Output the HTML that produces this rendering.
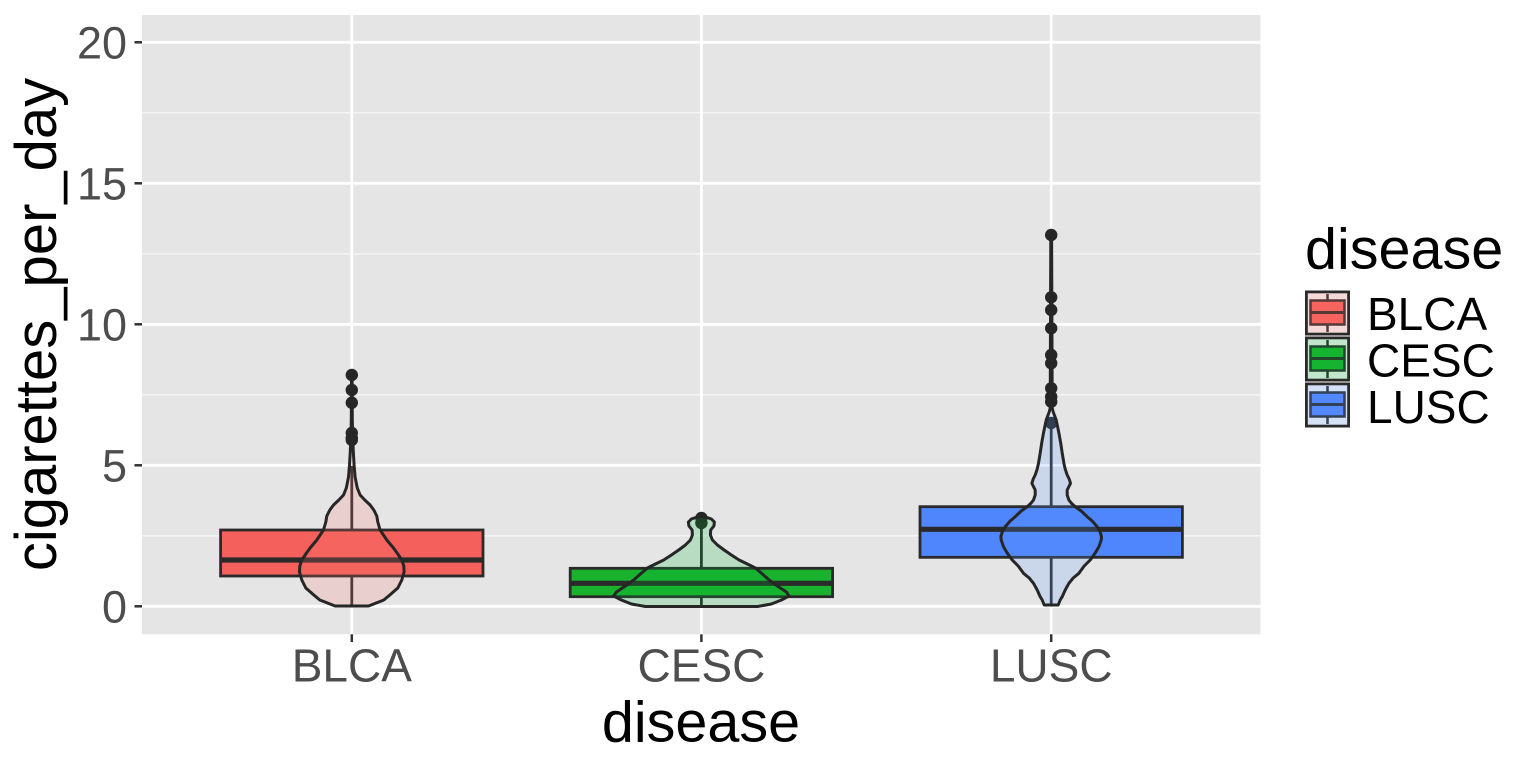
<!DOCTYPE html>
<html>
<head>
<meta charset="utf-8">
<style>
  html, body { margin:0; padding:0; background:#ffffff; }
  svg { display:block; }
  text { font-family: "Liberation Sans", Arial, sans-serif; }
</style>
</head>
<body>
<svg width="1536" height="768" viewBox="0 0 1536 768" xmlns="http://www.w3.org/2000/svg">
  <rect x="0" y="0" width="1536" height="768" fill="#ffffff"/>
  <!-- panel -->
  <rect x="142" y="15" width="1118.5" height="619.3" fill="#E5E5E5"/>
  <!-- minor gridlines -->
  <g stroke="#F5F5F5" stroke-width="1.4">
    <line x1="142" x2="1260.5" y1="535.8" y2="535.8"/>
    <line x1="142" x2="1260.5" y1="394.8" y2="394.8"/>
    <line x1="142" x2="1260.5" y1="253.8" y2="253.8"/>
    <line x1="142" x2="1260.5" y1="112.8" y2="112.8"/>
  </g>
  <!-- major gridlines -->
  <g stroke="#FFFFFF" stroke-width="2.8">
    <line x1="142" x2="1260.5" y1="606.3" y2="606.3"/>
    <line x1="142" x2="1260.5" y1="465.3" y2="465.3"/>
    <line x1="142" x2="1260.5" y1="324.3" y2="324.3"/>
    <line x1="142" x2="1260.5" y1="183.3" y2="183.3"/>
    <line x1="142" x2="1260.5" y1="42.3" y2="42.3"/>
    <line x1="351.8" x2="351.8" y1="15" y2="634.3"/>
    <line x1="701.4" x2="701.4" y1="15" y2="634.3"/>
    <line x1="1051.2" x2="1051.2" y1="15" y2="634.3"/>
  </g>

  <!-- boxplots -->
  <g stroke="#2a2a2a" stroke-width="2.8">
    <!-- BLCA -->
    <line x1="351.8" x2="351.8" y1="530" y2="466"/>
    <line x1="351.8" x2="351.8" y1="576" y2="606"/>
    <rect x="220.6" y="530" width="262.4" height="46" fill="#F4605B"/>
    <line x1="220.6" x2="483" y1="560" y2="560" stroke-width="5.2"/>
    <!-- CESC -->
    <line x1="701.4" x2="701.4" y1="568.3" y2="524"/>
    <line x1="701.4" x2="701.4" y1="596.7" y2="606.5"/>
    <rect x="570.2" y="568.3" width="262.4" height="28.4" fill="#19B22F"/>
    <line x1="570.2" x2="832.6" y1="583.3" y2="583.3" stroke-width="5.2"/>
    <!-- LUSC -->
    <line x1="1051.2" x2="1051.2" y1="506.7" y2="420"/>
    <line x1="1051.2" x2="1051.2" y1="557.3" y2="605"/>
    <rect x="920" y="506.7" width="262.4" height="50.6" fill="#4F86FE"/>
    <line x1="920" x2="1182.4" y1="529.3" y2="529.3" stroke-width="5.2"/>
  </g>
  <!-- outliers -->
  <g fill="#262626">
    <circle cx="351.8" cy="375" r="6.2"/>
    <circle cx="351.8" cy="390" r="6.2"/>
    <circle cx="351.8" cy="402.7" r="6.2"/>
    <circle cx="351.8" cy="433" r="6.2"/>
    <circle cx="351.8" cy="438" r="6.2"/>
    <circle cx="351.8" cy="440" r="6.2"/>
    <circle cx="701.4" cy="518" r="6.2"/>
    <circle cx="701.4" cy="523" r="6.2"/>
    <circle cx="1051.2" cy="235" r="6.2"/>
    <circle cx="1051.2" cy="297.3" r="6.2"/>
    <circle cx="1051.2" cy="310" r="6.2"/>
    <circle cx="1051.2" cy="328.3" r="6.2"/>
    <circle cx="1051.2" cy="355" r="6.2"/>
    <circle cx="1051.2" cy="363.3" r="6.2"/>
    <circle cx="1051.2" cy="388.3" r="6.2"/>
    <circle cx="1051.2" cy="396.7" r="6.2"/>
    <circle cx="1051.2" cy="401.7" r="6.2"/>
    <circle cx="1051.2" cy="423" r="6.2"/>
  </g>

  <!-- violins -->
  <g stroke="#262626" stroke-width="3" stroke-linejoin="round">
    <path fill="#F8766D" fill-opacity="0.2" d="M335.1,606 L319.8,600 L313.8,595 L305.8,588 L301.8,580 L299.5,572 L299.8,566 L301.8,560 L305.8,554 L310.1,548 L316.8,540 L323.5,530 L325.8,522 L326.8,516 L329.8,510 L333.5,505 L338.8,500 L343.5,495 L346.3,488 L348.5,477 L349.5,465 L350.1,455 L350.8,440 L351.3,420 L351.5,375 L352.1,375 L352.3,420 L352.8,440 L353.5,455 L354.1,465 L355.1,477 L357.3,488 L360.1,495 L364.8,500 L370.1,505 L373.8,510 L376.8,516 L377.8,522 L380.1,530 L386.8,540 L393.5,548 L397.8,554 L401.8,560 L403.8,566 L404.1,572 L401.8,580 L397.8,588 L389.8,595 L383.8,600 L368.5,606 Z"/>
    <path fill="#00BA38" fill-opacity="0.2" d="M645.4,606.5 L631.4,604 L621.4,600 L613.7,596 L616.4,592 L625.4,586 L633.7,580 L640.4,574 L647.4,568 L655.4,564 L663.7,560 L671.4,555 L678.7,550 L685.4,545 L690.4,540 L692.4,535 L692.1,530 L688.9,526 L688.4,522 L691.4,519 L697.4,517 L701.4,516.5 L705.4,517 L711.4,519 L714.4,522 L713.9,526 L710.7,530 L710.4,535 L712.4,540 L717.4,545 L724.1,550 L731.4,555 L739.1,560 L747.4,564 L755.4,568 L762.4,574 L769.1,580 L777.4,586 L786.4,592 L789.1,596 L781.4,600 L771.4,604 L757.4,606.5 Z"/>
    <path fill="#619CFF" fill-opacity="0.2" d="M1044.2,605 L1042.2,600 L1040.2,596.7 L1037.2,590 L1033.5,583.3 L1029.2,578 L1023.5,573.3 L1018.2,566 L1012.2,560 L1007.2,553 L1003.5,546.7 L1001.2,540 L1000.9,536.7 L1002.2,532 L1005.2,526.7 L1010.2,521 L1015.2,516.7 L1021.2,511 L1027.2,506.7 L1031.2,503 L1033.5,500 L1035.2,495 L1035.2,490 L1033.2,486 L1031.9,483.3 L1033.2,479 L1035.2,475 L1037.2,469 L1038.5,463.3 L1040.2,453 L1041.7,443 L1043.5,433 L1046.2,420 L1049.2,412 L1050.2,408 L1050.8,235 L1051.6,235 L1052.2,408 L1053.2,412 L1056.2,420 L1058.9,433 L1060.7,443 L1062.2,453 L1063.9,463.3 L1065.2,469 L1067.2,475 L1069.2,479 L1070.5,483.3 L1069.2,486 L1067.2,490 L1067.2,495 L1068.9,500 L1071.2,503 L1075.2,506.7 L1081.2,511 L1087.2,516.7 L1092.2,521 L1097.2,526.7 L1100.2,532 L1101.5,536.7 L1101.2,540 L1098.9,546.7 L1095.2,553 L1090.2,560 L1084.2,566 L1078.9,573.3 L1073.2,578 L1068.9,583.3 L1065.2,590 L1062.2,596.7 L1060.2,600 L1058.2,605 Z"/>
  </g>

  <!-- axis ticks -->
  <g stroke="#333333" stroke-width="2.5">
    <line x1="134.5" x2="142" y1="606.3" y2="606.3"/>
    <line x1="134.5" x2="142" y1="465.3" y2="465.3"/>
    <line x1="134.5" x2="142" y1="324.3" y2="324.3"/>
    <line x1="134.5" x2="142" y1="183.3" y2="183.3"/>
    <line x1="134.5" x2="142" y1="42.3" y2="42.3"/>
    <line x1="351.8" x2="351.8" y1="634.3" y2="642"/>
    <line x1="701.4" x2="701.4" y1="634.3" y2="642"/>
    <line x1="1051.2" x2="1051.2" y1="634.3" y2="642"/>
  </g>

  <!-- tick labels -->
  <g fill="#4D4D4D" font-size="45" text-anchor="end">
    <text x="127" y="622.3">0</text>
    <text x="127" y="481.3">5</text>
    <text x="127" y="340.3">10</text>
    <text x="127" y="199.3">15</text>
    <text x="127" y="58.3">20</text>
  </g>
  <g fill="#4D4D4D" font-size="46" text-anchor="middle">
    <text x="351.8" y="681.5">BLCA</text>
    <text x="701.4" y="681.5">CESC</text>
    <text x="1051.2" y="681.5">LUSC</text>
  </g>

  <!-- axis titles -->
  <text x="701" y="741.7" font-size="57.5" text-anchor="middle" fill="#000">disease</text>
  <text transform="translate(56,324.5) rotate(-90)" x="0" y="0" font-size="58" text-anchor="middle" fill="#000">cigarettes_per_day</text>

  <!-- legend -->
  <text x="1305" y="268.3" font-size="57.5" fill="#000">disease</text>
  <!-- key BLCA -->
  <g>
    <rect x="1305" y="290.5" width="45" height="45" fill="#F2F2F2"/>
    <line x1="1327.5" x2="1327.5" y1="294" y2="332" stroke="#2a2a2a" stroke-width="2.5"/>
    <rect x="1310.5" y="300.5" width="34" height="24" fill="#F4605B" stroke="#2a2a2a" stroke-width="2.5"/>
    <line x1="1310.5" x2="1344.5" y1="312.5" y2="312.5" stroke="#2a2a2a" stroke-width="3"/>
    <rect x="1306.4" y="291.9" width="42.2" height="42.2" fill="#F8766D" fill-opacity="0.2" stroke="#2a2a2a" stroke-width="2.8"/>
  </g>
  <!-- key CESC -->
  <g>
    <rect x="1305" y="336.5" width="45" height="45" fill="#F2F2F2"/>
    <line x1="1327.5" x2="1327.5" y1="340" y2="378" stroke="#2a2a2a" stroke-width="2.5"/>
    <rect x="1310.5" y="346.5" width="34" height="24" fill="#19B22F" stroke="#2a2a2a" stroke-width="2.5"/>
    <line x1="1310.5" x2="1344.5" y1="358.5" y2="358.5" stroke="#2a2a2a" stroke-width="3"/>
    <rect x="1306.4" y="337.9" width="42.2" height="42.2" fill="#00BA38" fill-opacity="0.2" stroke="#2a2a2a" stroke-width="2.8"/>
  </g>
  <!-- key LUSC -->
  <g>
    <rect x="1305" y="382.5" width="45" height="45" fill="#F2F2F2"/>
    <line x1="1327.5" x2="1327.5" y1="386" y2="424" stroke="#2a2a2a" stroke-width="2.5"/>
    <rect x="1310.5" y="392.5" width="34" height="24" fill="#4F86FE" stroke="#2a2a2a" stroke-width="2.5"/>
    <line x1="1310.5" x2="1344.5" y1="404.5" y2="404.5" stroke="#2a2a2a" stroke-width="3"/>
    <rect x="1306.4" y="383.9" width="42.2" height="42.2" fill="#619CFF" fill-opacity="0.2" stroke="#2a2a2a" stroke-width="2.8"/>
  </g>
  <g fill="#000" font-size="46">
    <text x="1367" y="330">BLCA</text>
    <text x="1367" y="376.5">CESC</text>
    <text x="1367" y="423">LUSC</text>
  </g>
</svg>
</body>
</html>
